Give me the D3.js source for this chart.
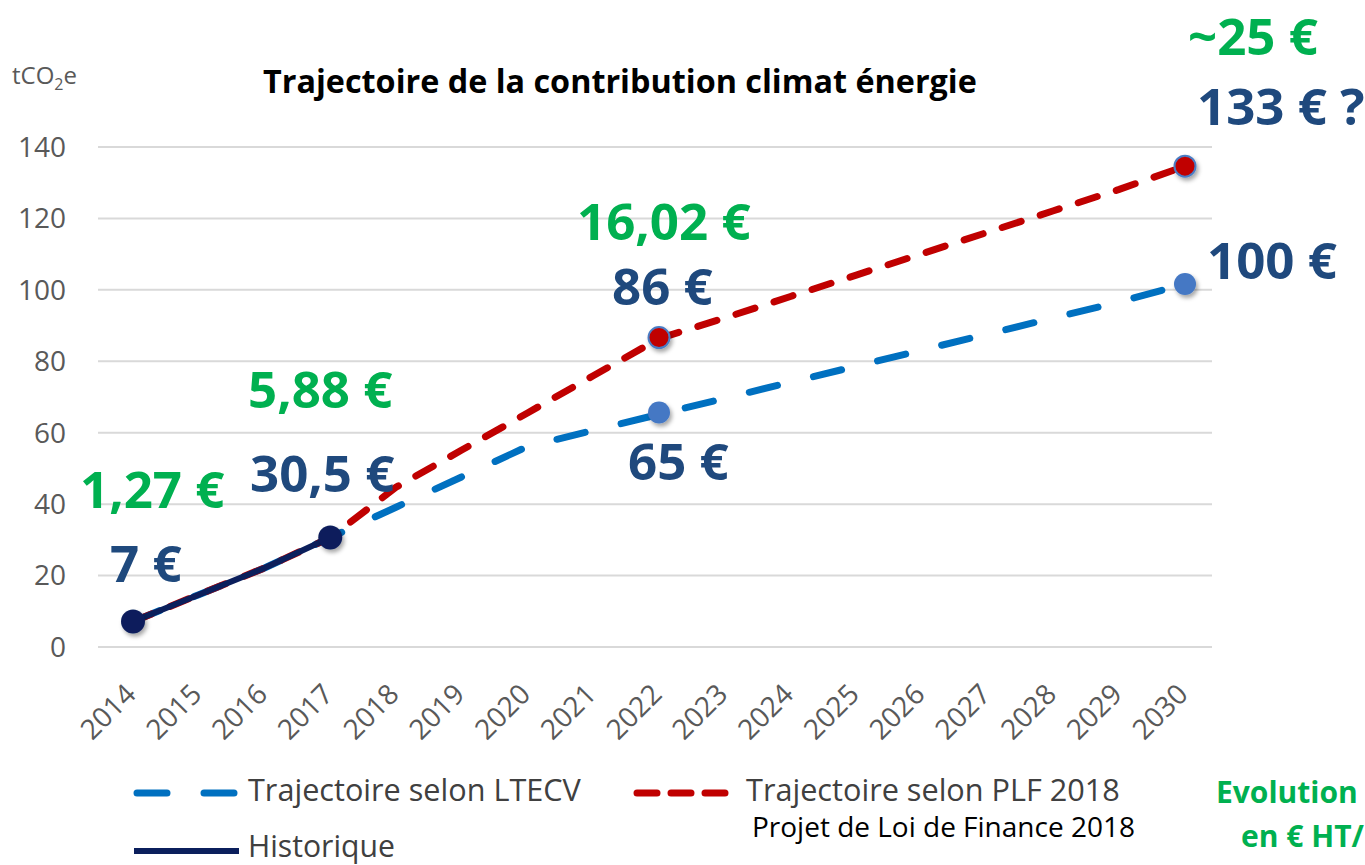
<!DOCTYPE html>
<html><head><meta charset="utf-8">
<script src="https://cdn.jsdelivr.net/npm/d3@7"></script>
<style>body{margin:0;background:#fff}svg{display:block}text{font-family:"Open Sans",sans-serif}</style>
</head><body>
<svg id="c" width="1365" height="865"></svg>
<script>
const years = ["2014","2015","2016","2017","2018","2019","2020","2021","2022","2023","2024","2025","2026","2027","2028","2029","2030"];
const yTicks = [0,20,40,60,80,100,120,140];
const historique = [7,14.5,22,30.5];
const ltecv = [7,14.5,22,30.5,39,47.5,56,60.5,65,69.5,74,78.5,83,87.5,92,96.5,101.5];
const plf = [7,14.5,22,30.5,44.6,55,65.4,75.8,86.2,92,98,104,110,116,122,128,134.5];
const ltecvDots = [["2022",65.5],["2030",101.5]];
const plfDots = [["2022",86.5],["2030",134.5]];
const histDots = [["2014",7],["2017",30.5]];
const priceLabels = [
  {t:"1,27 €",c:"g",x:80,y:508},{t:"7 €",c:"n",x:110,y:582},
  {t:"5,88 €",c:"g",x:248,y:408},{t:"30,5 €",c:"n",x:250,y:492},
  {t:"16,02 €",c:"g",x:577,y:240},{t:"86 €",c:"n",x:612,y:305},
  {t:"65 €",c:"n",x:628,y:480},
  {t:"~25 €",c:"g",x:1188,y:55},{t:"133 € ?",c:"n",x:1197,y:125},{t:"100 €",c:"n",x:1207,y:279}
];
const GREEN="#00b050", NAVY="#1f497d";
const svg = d3.select("#c");
const defs = svg.append("defs");
defs.append("filter").attr("id","sh").attr("x","-50%").attr("y","-50%").attr("width","200%").attr("height","200%")
  .append("feDropShadow").attr("dx",2).attr("dy",3).attr("stdDeviation",2).attr("flood-color","#000").attr("flood-opacity",0.35);

const x = d3.scalePoint().domain(years).range([133,1185]);
const y = d3.scaleLinear().domain([0,140]).range([646.5,146.5]);

function fit(sel, w){ const n=sel.node(); const fs=parseFloat(sel.attr("font-size")); const L=n.getComputedTextLength(); sel.attr("font-size", fs*w/L); return sel; }

// gridlines + y labels
const gy = svg.append("g").attr("transform","translate(98,0)")
  .call(d3.axisLeft(y).tickValues(yTicks).tickSize(-1114).tickPadding(32));
gy.select(".domain").remove();
gy.selectAll(".tick line").attr("stroke","#d9d9d9").attr("stroke-width",2);
gy.selectAll(".tick text").attr("fill","#595959").attr("font-size",28).attr("font-family","Open Sans").attr("dy","0.35em");

// x labels
const gx = svg.append("g").attr("transform","translate(0,660)")
  .call(d3.axisBottom(x).tickSize(0).tickPadding(0));
gx.select(".domain").remove();
gx.selectAll(".tick text").attr("fill","#595959").attr("font-size",28).attr("font-family","Open Sans")
  .attr("text-anchor","end").attr("dy",null).attr("y",0)
  .attr("transform","translate(4,36) rotate(-45)");

// title
fit(svg.append("text").attr("x",263).attr("y",93).attr("font-weight","bold").attr("font-size",24).attr("fill","#000")
  .text("Trajectoire de la contribution climat énergie"),714);
// unit
const u = svg.append("text").attr("x",12).attr("y",84).attr("font-size",24).attr("fill","#595959");
u.append("tspan").text("tCO");
u.append("tspan").attr("font-size",16).attr("dy",6).text("2");
u.append("tspan").attr("dy",-6).text("e");

const line = d3.line().x((d,i)=>x(years[i])).y(d=>y(d));
svg.append("path").datum(ltecv).attr("d",line).attr("fill","none").attr("stroke","#0070c0").attr("stroke-width",7)
  .attr("stroke-linecap","round").attr("stroke-dasharray","29,37");
svg.append("path").datum(plf).attr("d",line).attr("fill","none").attr("stroke","#c00000").attr("stroke-width",7)
  .attr("stroke-linecap","round").attr("stroke-dasharray","20,20");
svg.append("path").datum(historique).attr("d",line).attr("fill","none").attr("stroke","#0b1f5c").attr("stroke-width",6);

svg.append("g").selectAll("circle").data(ltecvDots).join("circle")
  .attr("cx",d=>x(d[0])).attr("cy",d=>y(d[1])).attr("r",11).attr("fill","#4478c4").attr("filter","url(#sh)");
svg.append("g").selectAll("circle").data(plfDots).join("circle")
  .attr("cx",d=>x(d[0])).attr("cy",d=>y(d[1])).attr("r",10.5).attr("fill","#c00000").attr("stroke","#4a7cc4").attr("stroke-width",2).attr("filter","url(#sh)");
svg.append("g").selectAll("circle").data(histDots).join("circle")
  .attr("cx",d=>x(d[0])).attr("cy",d=>y(d[1])).attr("r",12).attr("fill","#0b1f5c").attr("filter","url(#sh)");

svg.append("g").selectAll("text").data(priceLabels).join("text")
  .attr("x",d=>d.x).attr("y",d=>d.y).attr("font-size",51).attr("font-weight","bold")
  .attr("fill",d=>d.c==="g"?GREEN:NAVY).text(d=>d.t);

// legend
const lg = svg.append("g");
lg.append("line").attr("x1",137).attr("x2",237).attr("y1",793).attr("y2",793).attr("stroke","#0070c0").attr("stroke-width",7)
  .attr("stroke-linecap","round").attr("stroke-dasharray","30,37");
lg.append("line").attr("x1",637).attr("x2",731).attr("y1",793).attr("y2",793).attr("stroke","#c00000").attr("stroke-width",7)
  .attr("stroke-linecap","round").attr("stroke-dasharray","20,14");
lg.append("line").attr("x1",134).attr("x2",239).attr("y1",851).attr("y2",851).attr("stroke","#0b1f5c").attr("stroke-width",6);
fit(lg.append("text").attr("x",248).attr("y",801).attr("font-size",24).attr("fill","#404040").text("Trajectoire selon LTECV"),333);
fit(lg.append("text").attr("x",746).attr("y",801).attr("font-size",24).attr("fill","#404040").text("Trajectoire selon PLF 2018"),374);
fit(lg.append("text").attr("x",752).attr("y",837).attr("font-size",22).attr("fill","#000").text("Projet de Loi de Finance 2018"),383);
fit(lg.append("text").attr("x",248).attr("y",857).attr("font-size",24).attr("fill","#404040").text("Historique"),147);
lg.append("text").attr("x",1216).attr("y",803).attr("font-size",30).attr("font-weight","bold").attr("fill",GREEN).text("Evolution");
lg.append("text").attr("x",1241).attr("y",847).attr("font-size",30).attr("font-weight","bold").attr("fill",GREEN).text("en € HT/");
</script>
</body></html>
